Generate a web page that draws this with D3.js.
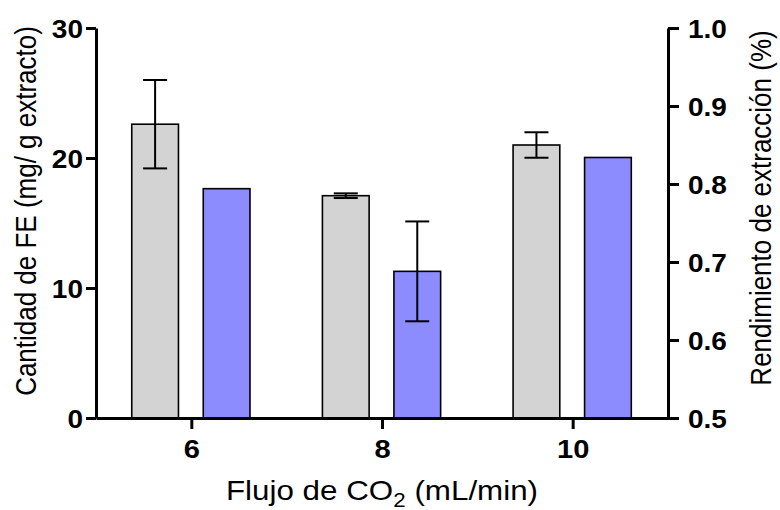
<!DOCTYPE html>
<html>
<head>
<meta charset="utf-8">
<script src="https://cdn.jsdelivr.net/npm/d3@7"></script>
<style>
  body { margin: 0; background: #fff; }
  text { font-family: "Liberation Sans", Arial, sans-serif; }
</style>
</head>
<body>
<div id="chart"></div>
<script>
// Datos
const flujos = [6, 8, 10];
const cantidadFE = [22.6, 17.1, 21.0];
const errorFE = [3.4, 0.18, 0.98];
const rendimiento = [0.794, 0.688, 0.834];
const errorRend = [0, 0.064, 0];
const ticksIzq = [0, 10, 20, 30];
const ticksDer = [0.5, 0.6, 0.7, 0.8, 0.9, 1.0];

const width = 780;
const height = 510;
const mLeft = 96, mRight = 668, mTop = 28, mBottom = 418;
const stretch = 1.12; // el texto original aparece algo ensanchado

const svg = d3.select("#chart").append("svg")
  .attr("width", width).attr("height", height);

// Escalas
const x = d3.scaleLinear().domain([5, 11]).range([mLeft, mRight]);
const yL = d3.scaleLinear().domain([0, 30]).range([mBottom, mTop]);
const yR = d3.scaleLinear().domain([0.5, 1.0]).range([mBottom, mTop]);
const barW = 0.49;

// Barras grises (eje izquierdo)
svg.selectAll("rect.gris")
  .data(flujos)
  .join("rect")
  .attr("class", "gris")
  .attr("x", (d) => x(d - 0.625))
  .attr("width", x(barW) - x(0))
  .attr("y", (d, i) => yL(cantidadFE[i]))
  .attr("height", (d, i) => yL(0) - yL(cantidadFE[i]))
  .attr("fill", "#d3d3d3")
  .attr("stroke", "#000")
  .attr("stroke-width", 1.6);

// Barras azules (eje derecho)
svg.selectAll("rect.azul")
  .data(flujos)
  .join("rect")
  .attr("class", "azul")
  .attr("x", (d) => x(d + 0.125))
  .attr("width", x(barW) - x(0))
  .attr("y", (d, i) => yR(rendimiento[i]))
  .attr("height", (d, i) => yR(0.5) - yR(rendimiento[i]))
  .attr("fill", "#8c8cff")
  .attr("stroke", "#000")
  .attr("stroke-width", 1.6);

// Barras de error
function errorBar(cx, yTop, yBot) {
  const g = svg.append("g").attr("stroke", "#000").attr("stroke-width", 2);
  g.append("line").attr("x1", cx).attr("x2", cx).attr("y1", yTop).attr("y2", yBot);
  g.append("line").attr("x1", cx - 12).attr("x2", cx + 12).attr("y1", yTop).attr("y2", yTop);
  g.append("line").attr("x1", cx - 12).attr("x2", cx + 12).attr("y1", yBot).attr("y2", yBot);
}
flujos.forEach((d, i) => {
  if (errorFE[i] > 0) {
    errorBar(x(d - 0.625 + barW / 2), yL(cantidadFE[i] + errorFE[i]), yL(cantidadFE[i] - errorFE[i]));
  }
  if (errorRend[i] > 0) {
    errorBar(x(d + 0.125 + barW / 2), yR(rendimiento[i] + errorRend[i]), yR(rendimiento[i] - errorRend[i]));
  }
});

// Ejes
const axisL = svg.append("g")
  .attr("transform", `translate(${mLeft},0)`)
  .call(d3.axisLeft(yL).tickValues(ticksIzq).tickSize(10).tickSizeOuter(0));
const axisR = svg.append("g")
  .attr("transform", `translate(${mRight},0)`)
  .call(d3.axisRight(yR).tickValues(ticksDer).tickFormat(d3.format(".1f")).tickSize(11).tickSizeOuter(0));
const axisX = svg.append("g")
  .attr("transform", `translate(0,${mBottom})`)
  .call(d3.axisBottom(x).tickValues(flujos).tickFormat(d3.format("d")).tickSize(11).tickSizeOuter(0));

[axisL, axisR, axisX].forEach((a) => {
  a.select(".domain").attr("stroke-width", 3);
  a.selectAll(".tick line").attr("stroke-width", 3);
  a.selectAll(".tick text")
    .attr("font-weight", "bold")
    .attr("fill", "#000")
    .style("font-family", "'Liberation Sans', Arial, sans-serif");
});
axisL.selectAll(".tick text")
  .attr("x", null).attr("dy", "0.38em").attr("font-size", 25)
  .attr("transform", `translate(-13,0) scale(${stretch},1)`);
axisR.selectAll(".tick text")
  .attr("x", null).attr("dy", "0.36em").attr("font-size", 25)
  .attr("transform", `translate(20,0) scale(${stretch},1)`);
axisX.selectAll(".tick text")
  .attr("y", null).attr("dy", null).attr("font-size", 26)
  .attr("transform", `translate(0,40) scale(${stretch},1)`);

// Títulos
const cy = (mTop + mBottom) / 2;
svg.append("text")
  .attr("transform", `translate(36,${cy - 12}) scale(1.15,1) rotate(-90)`)
  .attr("text-anchor", "middle")
  .attr("font-size", 26)
  .text("Cantidad de FE (mg/ g extracto)");

svg.append("text")
  .attr("transform", `translate(771,${cy - 15}) scale(1.15,1) rotate(-90)`)
  .attr("text-anchor", "middle")
  .attr("font-size", 26)
  .text("Rendimiento de extracción (%)");

const tx = svg.append("text")
  .attr("transform", `translate(382,500) scale(${stretch},1)`)
  .attr("text-anchor", "middle")
  .attr("font-size", 28);
tx.append("tspan").text("Flujo de CO");
tx.append("tspan").attr("font-size", 20).attr("dy", 7).text("2");
tx.append("tspan").attr("dy", -7).text(" (mL/min)");
</script>
</body>
</html>
